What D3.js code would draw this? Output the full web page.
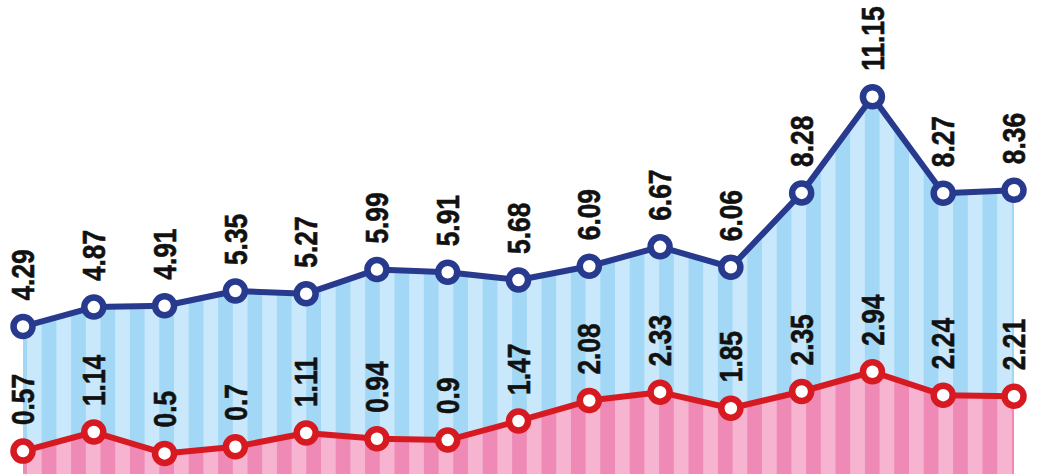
<!DOCTYPE html>
<html>
<head>
<meta charset="utf-8">
<script src="https://cdn.jsdelivr.net/npm/d3@7"></script>
<style>
html,body{margin:0;padding:0;background:#fff;}
svg{display:block;}
</style>
</head>
<body>
<svg id="chart" width="1040" height="474"></svg>
<script>
const categories = [1,2,3,4,5,6,7,8,9,10,11,12,13,14,15];
const seriesTop = [4.29,4.87,4.91,5.35,5.27,5.99,5.91,5.68,6.09,6.67,6.06,8.28,11.15,8.27,8.36];
const seriesBottom = [0.57,1.14,0.5,0.7,1.11,0.94,0.9,1.47,2.08,2.33,1.85,2.35,2.94,2.24,2.21];

const W = 1040, H = 474;
const svg = d3.select('#chart');

const x = d3.scalePoint().domain(categories).range([23, 1014]);
const y = d3.scaleLinear().domain([0, 14.04]).range([470.2, 0]);

const defs = svg.append('defs');
function stripes(id, light, dark){
  const p = defs.append('pattern').attr('id', id)
    .attr('patternUnits','userSpaceOnUse')
    .attr('x', -2.4).attr('y', 0)
    .attr('width', 29.4).attr('height', 10);
  p.append('rect').attr('x',0).attr('y',0).attr('width',14.7).attr('height',10).attr('fill',light);
  p.append('rect').attr('x',14.7).attr('y',0).attr('width',14.7).attr('height',10).attr('fill',dark);
}
stripes('blueStripes', '#c9e8fb', '#a2d7f5');
stripes('pinkStripes', '#f6b4d1', '#ee8ab5');

const area = vals => d3.area()
  .x((d,i)=>x(categories[i]))
  .y0(H)
  .y1(d=>y(d))(vals);
const line = vals => d3.line()
  .x((d,i)=>x(categories[i]))
  .y(d=>y(d))(vals);

svg.append('path').attr('d', area(seriesTop)).attr('fill','url(#blueStripes)');
svg.append('path').attr('d', area(seriesBottom)).attr('fill','url(#pinkStripes)');

function drawSeries(vals, color){
  svg.append('path').attr('d', line(vals)).attr('fill','none')
    .attr('stroke', color).attr('stroke-width', 6).attr('stroke-linejoin','round');
  svg.append('g').selectAll('circle').data(vals).join('circle')
    .attr('cx',(d,i)=>x(categories[i])).attr('cy',d=>y(d)).attr('r',9.5)
    .attr('fill','#fff').attr('stroke',color).attr('stroke-width',6.5);
  svg.append('g').selectAll('text').data(vals).join('text')
    .attr('transform',(d,i)=>`translate(${x(categories[i])},${y(d)-26}) rotate(-90) scale(0.85,1)`)
    .attr('dy','0.36em')
    .attr('text-anchor','start')
    .style('font-family','"Liberation Sans",Arial,sans-serif')
    .style('font-weight','bold')
    .style('font-size','31px')
    .attr('fill','#111')
    .attr('stroke','#111').attr('stroke-width',0.6)
    .text(d=>String(d));
}
drawSeries(seriesTop, '#283a8e');
drawSeries(seriesBottom, '#d71a21');
</script>
</body>
</html>
